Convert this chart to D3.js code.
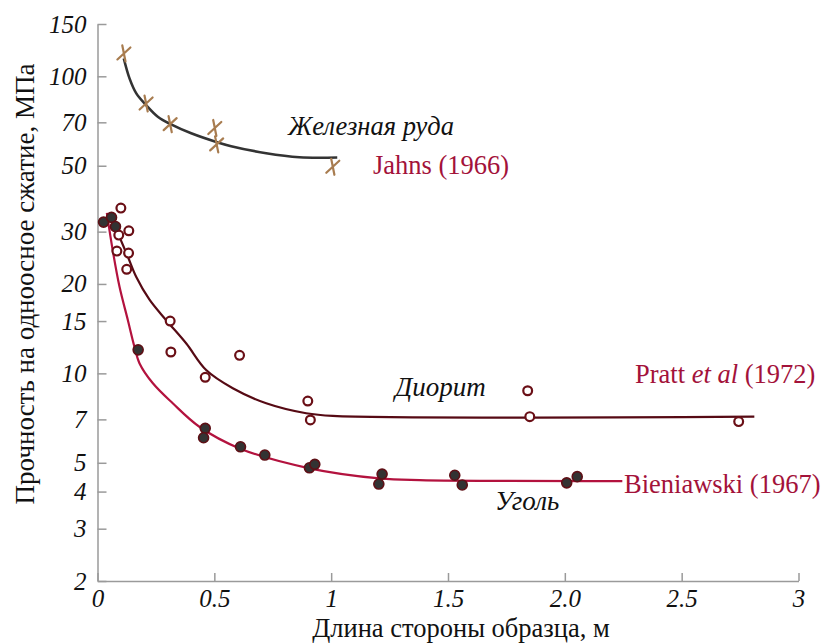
<!DOCTYPE html>
<html>
<head>
<meta charset="utf-8">
<script src="https://cdn.jsdelivr.net/npm/d3@7"></script>
<style>
  html, body { margin: 0; padding: 0; background: #fff; }
  svg { display: block; }
</style>
</head>
<body>
<div id="chart"></div>
<script>
// Size effect on uniaxial compressive strength (log scale)

// Axis ticks
const xTicks = [0, 0.5, 1, 1.5, 2, 2.5, 3];
const xTickLabels = ["0", "0.5", "1", "1.5", "2.0", "2.5", "3"];
const yTicks = [2, 3, 4, 5, 7, 10, 15, 20, 30, 50, 70, 100, 150];

// Iron ore (Jahns 1966): measured points
const oreX = [0.113, 0.208, 0.311, 0.502, 0.510, 1.007];
const oreY = [119.4, 81, 69, 67, 59, 49.6];
// Iron ore: fitted curve
const oreFitX = [0.1125, 0.137, 0.166, 0.208, 0.258, 0.315, 0.401, 0.515, 0.572, 0.722, 0.864, 1.026];
const oreFitY = [114.8, 98.4, 87.6, 80.0, 73.1, 68.9, 64.3, 59.9, 58.2, 55.1, 53.4, 53.3];

// Diorite (Pratt et al 1972): measured points
const dioriteX = [0.100, 0.134, 0.091, 0.083, 0.133, 0.125, 0.311, 0.314, 0.608, 0.461, 0.900, 0.911, 1.841, 1.850, 2.744];
const dioriteY = [36.0, 30.2, 29.2, 25.8, 25.4, 22.4, 15.0, 11.8, 11.5, 9.70, 8.07, 6.97, 8.74, 7.15, 6.88];
// Diorite: fitted curve
const dioriteFitX = [0.065, 0.094, 0.130, 0.166, 0.2225, 0.294, 0.380, 0.465, 0.579, 0.722, 0.893, 1.007, 2.811];
const dioriteFitY = [32.8, 28.8, 24.7, 21.1, 17.7, 15.1, 12.6, 10.26, 8.91, 7.93, 7.34, 7.19, 7.15];

// Coal (Bieniawski 1967): measured points
const coalX = [0.026, 0.060, 0.077, 0.174, 0.461, 0.454, 0.612, 0.716, 0.907, 0.930, 1.218, 1.204, 1.529, 1.561, 2.008, 2.053];
const coalY = [32.3, 33.5, 31.2, 12.0, 6.53, 6.07, 5.66, 5.31, 4.81, 4.94, 4.58, 4.24, 4.54, 4.21, 4.28, 4.49];
// Coal: fitted curve
const coalFitX = [0.040, 0.065, 0.094, 0.130, 0.158, 0.180, 0.237, 0.322, 0.436, 0.608, 0.907, 1.207, 1.378, 2.246];
const coalFitY = [34.7, 26.0, 19.6, 15.1, 12.3, 10.8, 9.26, 7.93, 6.61, 5.59, 4.79, 4.43, 4.37, 4.34];

const FONT = "'Liberation Serif', 'Times New Roman', Times, serif";
const W = 824, H = 643;
const svg = d3.select("#chart").append("svg")
  .attr("width", W).attr("height", H)
  .style("font-family", FONT);

const x = d3.scaleLinear().domain([0, 3]).range([97.5, 798.5]);
const y = d3.scaleLog().domain([2, 150]).range([581, 24]);

const axisColor = "#9a9a9a";
const tickFont = 25, textFont = 26.5;

// x axis: ticks point up into the plot
const xAxis = svg.append("g")
  .attr("transform", `translate(0,${y(2)})`)
  .call(d3.axisBottom(x).tickValues(xTicks).tickSize(-8).tickSizeOuter(0)
    .tickFormat((d, i) => xTickLabels[i]));
xAxis.attr("font-family", null).attr("font-size", null);
xAxis.select(".domain").attr("stroke", axisColor).attr("stroke-width", 1.5);
xAxis.selectAll(".tick line").attr("stroke", axisColor).attr("stroke-width", 1.5);
xAxis.selectAll(".tick text")
  .attr("y", 8).attr("dy", "0.71em")
  .style("font-family", FONT)
  .attr("font-size", tickFont).attr("font-style", "italic").attr("fill", "#111");

// y axis: ticks point right into the plot
const yAxis = svg.append("g")
  .attr("transform", `translate(${x(0)},0)`)
  .call(d3.axisLeft(y).tickValues(yTicks).tickSize(-9).tickSizeOuter(0)
    .tickFormat(d3.format("d")));
yAxis.attr("font-family", null).attr("font-size", null);
yAxis.select(".domain").attr("stroke", axisColor).attr("stroke-width", 1.5);
yAxis.selectAll(".tick line").attr("stroke", axisColor).attr("stroke-width", 1.5);
yAxis.selectAll(".tick text")
  .attr("x", -11)
  .style("font-family", FONT)
  .attr("font-size", tickFont).attr("font-style", "italic").attr("fill", "#111");

// Axis titles
svg.append("text")
  .attr("x", 461).attr("y", 637)
  .attr("text-anchor", "middle")
  .attr("font-size", textFont).attr("fill", "#111")
  .text("Длина стороны образца, м");

svg.append("text")
  .attr("transform", "translate(34,284) rotate(-90)")
  .attr("text-anchor", "middle")
  .attr("font-size", 27).attr("fill", "#111")
  .text("Прочность на одноосное сжатие, МПа");

const line = d3.line().x(d => x(d[0])).y(d => y(d[1])).curve(d3.curveCatmullRom.alpha(0.5));
const zip = (a, b) => a.map((v, i) => [v, b[i]]);

// Fitted curves
svg.append("path").datum(zip(oreFitX, oreFitY))
  .attr("d", line).attr("fill", "none")
  .attr("stroke", "#333").attr("stroke-width", 2.6);

svg.append("path").datum(zip(coalFitX, coalFitY))
  .attr("d", line).attr("fill", "none")
  .attr("stroke", "#b3123e").attr("stroke-width", 2.2);

svg.append("path").datum(zip(dioriteFitX, dioriteFitY))
  .attr("d", line).attr("fill", "none")
  .attr("stroke", "#560a14").attr("stroke-width", 2.2);

// Iron ore markers (crosses)
svg.append("g").selectAll("path").data(zip(oreX, oreY)).join("path")
  .attr("transform", d => `translate(${x(d[0])},${y(d[1])})`)
  .attr("d", "M-1.6,-8L1.6,8M-6.5,6L6.5,-6")
  .attr("fill", "none").attr("stroke", "#a87c4f").attr("stroke-width", 2.2)
  .attr("stroke-linecap", "round");

// Diorite markers (open circles)
svg.append("g").selectAll("circle").data(zip(dioriteX, dioriteY)).join("circle")
  .attr("cx", d => x(d[0])).attr("cy", d => y(d[1])).attr("r", 4.4)
  .attr("fill", "#fff").attr("stroke", "#6a0f16").attr("stroke-width", 2.2);

// Coal markers (filled circles)
svg.append("g").selectAll("circle").data(zip(coalX, coalY)).join("circle")
  .attr("cx", d => x(d[0])).attr("cy", d => y(d[1])).attr("r", 5)
  .attr("fill", "#333").attr("stroke", "#5e1016").attr("stroke-width", 1.6);

// Annotations
const crimson = "#a3123a";
svg.append("text").attr("x", 288).attr("y", 135)
  .attr("font-size", textFont).attr("font-style", "italic").attr("fill", "#111")
  .text("Железная руда");
svg.append("text").attr("x", 373).attr("y", 174)
  .attr("font-size", textFont).attr("fill", crimson)
  .text("Jahns (1966)");
svg.append("text").attr("x", 395).attr("y", 396)
  .attr("font-size", 27).attr("font-style", "italic").attr("fill", "#111")
  .text("Диорит");
svg.append("text").attr("x", 495).attr("y", 510)
  .attr("font-size", 27).attr("font-style", "italic").attr("fill", "#111")
  .text("Уголь");

const pratt = svg.append("text").attr("x", 635).attr("y", 383)
  .attr("font-size", textFont).attr("fill", crimson);
pratt.append("tspan").text("Pratt ");
pratt.append("tspan").attr("font-style", "italic").text("et al");
pratt.append("tspan").text(" (1972)");

svg.append("text").attr("x", 624).attr("y", 493)
  .attr("font-size", textFont).attr("fill", crimson)
  .text("Bieniawski (1967)");
</script>
</body>
</html>
